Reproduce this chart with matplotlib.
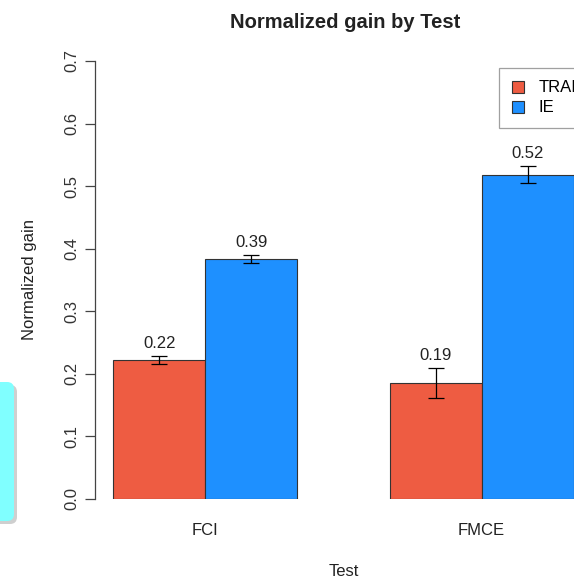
import numpy as np
import matplotlib
matplotlib.use("Agg")
import matplotlib.pyplot as plt
from matplotlib.patches import FancyBboxPatch, Patch

# data
tests = ["FCI", "FMCE"]
groups = ["TRAIN", "IE"]
gain_train = [0.222, 0.185]
gain_ie = [0.384, 0.518]
err_train = [0.006, 0.024]
err_ie = [0.0065, 0.0135]
labels_train = ["0.22", "0.19"]
labels_ie = ["0.39", "0.52"]
yticks = [0.0, 0.1, 0.2, 0.3, 0.4, 0.5, 0.6, 0.7]

col_train = "#EE5C42"
col_ie = "#1E90FF"

plt.rcParams['font.family'] = ['Liberation Sans', 'DejaVu Sans']
fs = 12

W, H = 574, 579
fig = plt.figure(figsize=(W / 100, H / 100), dpi=100)

# cyan rounded box peeking in on the left edge (shadow first)
shadow = FancyBboxPatch((-20 / W + 3 / W, 1 - 524 / H), 34 / W, 139 / H,
                        boxstyle="round,pad=0,rounding_size=0.012",
                        transform=fig.transFigure, fc="#cfcfcf", ec="none",
                        zorder=0)
fig.patches.append(shadow)
cbox = FancyBboxPatch((-20 / W, 1 - 521 / H), 34 / W, 139 / H,
                      boxstyle="round,pad=0,rounding_size=0.012",
                      transform=fig.transFigure, fc="#80FFFF", ec="none",
                      zorder=1)
fig.patches.append(cbox)

ax = fig.add_axes([95 / W, 80 / H, 497 / W, 438 / H])
ax.set_xlim(-0.2, 5.2)
ax.set_ylim(0, 0.7)

x_train = np.array([0.5, 3.5])
x_ie = np.array([1.5, 4.5])

ax.bar(x_train, gain_train, width=1.0, color=col_train, edgecolor="#333333",
       linewidth=0.8)
ax.bar(x_ie, gain_ie, width=1.0, color=col_ie, edgecolor="#333333",
       linewidth=0.8)
ax.errorbar(x_train, gain_train, yerr=err_train, fmt="none", ecolor="black",
            elinewidth=0.9, capsize=5.8, capthick=0.9)
ax.errorbar(x_ie, gain_ie, yerr=err_ie, fmt="none", ecolor="black",
            elinewidth=0.9, capsize=5.8, capthick=0.9)

for xs, vals, errs, labs in [(x_train, gain_train, err_train, labels_train),
                             (x_ie, gain_ie, err_ie, labels_ie)]:
    for x, v, e, l in zip(xs, vals, errs, labs):
        ax.text(x, v + e + 0.008, l, ha="center", va="bottom", fontsize=fs,
                color="#222222")

for s in ["top", "right", "bottom"]:
    ax.spines[s].set_visible(False)
ax.spines["left"].set_bounds(0, 0.7)
ax.spines["left"].set_color("#444444")
ax.spines["left"].set_linewidth(0.9)

ax.set_yticks(yticks)
ax.set_yticklabels(["%.1f" % t for t in yticks], rotation=90, va="center",
                   fontsize=fs, color="#333333")
ax.tick_params(axis="y", length=7, width=0.9, color="#444444", pad=4)
ax.set_xticks([1.0, 4.0])
ax.set_xticklabels(tests, fontsize=fs, color="#222222")
ax.tick_params(axis="x", length=0, pad=17)

ax.set_ylabel("Normalized gain", fontsize=fs, labelpad=20, color="#222222")
fig.text(344 / W, 1 - 571 / H, "Test", ha="center", va="center",
         fontsize=fs, color="#222222")
fig.text(345 / W, 1 - 22 / H, "Normalized gain by Test", ha="center",
         va="center", fontsize=14.5, fontweight="bold", color="#222222")

handles = [Patch(facecolor=col_train, edgecolor="#333333", linewidth=0.8),
           Patch(facecolor=col_ie, edgecolor="#333333", linewidth=0.8)]
leg = fig.legend(handles, groups, loc="upper left",
                 bbox_to_anchor=(499 / W, 1 - 68 / H), frameon=True,
                 fancybox=False, fontsize=fs, handlelength=0.75,
                 handleheight=0.75, handletextpad=0.85, labelspacing=0.3,
                 borderpad=0.75, borderaxespad=0)
leg.get_frame().set_edgecolor("#888888")
leg.get_frame().set_linewidth(0.9)

fig.savefig("out.png", dpi=100)
